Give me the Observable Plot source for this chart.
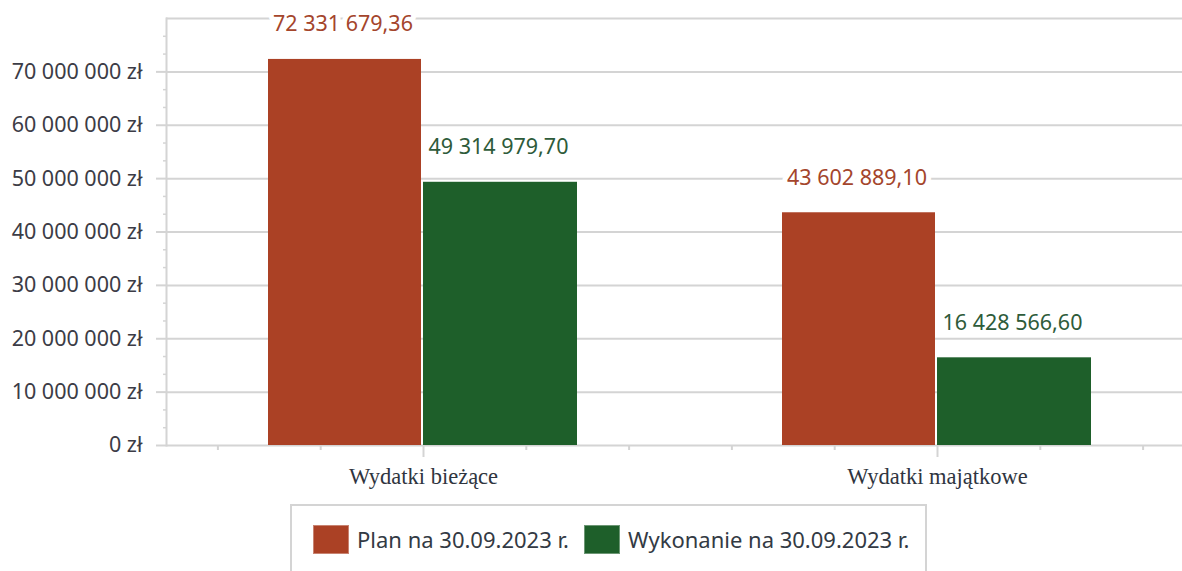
<!DOCTYPE html>
<html>
<head>
<meta charset="utf-8">
<script src="https://cdn.jsdelivr.net/npm/d3@7"></script>
<script src="https://cdn.jsdelivr.net/npm/@observablehq/plot@0.6"></script>
<style>
  html, body { margin: 0; padding: 0; background: #fff; }
  #chart svg { display: block; }
  #legend {
    margin-left: 290px; margin-top: 4px; width: 637px; height: 80px;
    border: 2px solid #d4d4d4; border-bottom: none; box-sizing: border-box;
    display: flex; align-items: flex-start; padding-left: 21px; padding-top: 18px;
    font-family: "Noto Sans", sans-serif; font-size: 22px; color: #333a44;
  }
  .item { display: flex; align-items: center; margin-right: 15px; }
  .sw { width: 36px; height: 29px; margin-right: 8px; box-sizing: border-box; border: 1px solid rgba(255,255,255,0.35); }
</style>
</head>
<body>
<div id="chart"></div>
<div id="legend"></div>
<script>
const categories = ["Wydatki bieżące", "Wydatki majątkowe"];
const series = ["Plan na 30.09.2023 r.", "Wykonanie na 30.09.2023 r."];
const planValues = [72331679.36, 43602889.10];
const wykonanieValues = [49314979.70, 16428566.60];
const seriesColors = ["#ab4125", "#1e5f2a"];
const labelColors = ["#a4452c", "#2e5b3a"];
const yTickLabels = [0, 10000000, 20000000, 30000000, 40000000, 50000000, 60000000, 70000000];
const yGridTicks = [0, 10000000, 20000000, 30000000, 40000000, 50000000, 60000000, 70000000, 80000000];

const loc = d3.formatLocale({decimal: ",", thousands: " ", grouping: [3], currency: ["", ""]});
const fmtY = v => loc.format(",.0f")(v) + " zł";
const fmtV = loc.format(",.2f");

const planData = categories.map((c, i) => ({category: c, series: series[0], value: planValues[i]}));
const wykData = categories.map((c, i) => ({category: c, series: series[1], value: wykonanieValues[i]}));

const minorY = [];
for (let i = 0; i < yGridTicks.length - 1; i++) {
  const a = yGridTicks[i], b = yGridTicks[i + 1];
  minorY.push(a + (b - a) / 3, a + 2 * (b - a) / 3);
}

const xLeft = 166, xRight = 1194;
const bandW = (xRight - xLeft) / categories.length;
const step = bandW / 5;

const sans = "'Noto Sans', sans-serif";
const gridColor = "#d4d4d4";

const marks = [
  Plot.gridY(yGridTicks, {stroke: gridColor, strokeOpacity: 1, strokeWidth: 2}),
  Plot.frame({anchor: "left", stroke: gridColor, strokeWidth: 2}),
  Plot.axisY({ticks: minorY, tickSize: 3, tickFormat: () => "", stroke: gridColor, strokeWidth: 1.5}),
  Plot.axisY({ticks: yTickLabels, tickSize: 10, tickPadding: 14, tickFormat: fmtY,
    stroke: gridColor, strokeWidth: 2, fill: "#3c3c46", fontSize: 21.5, fontFamily: sans}),
  Plot.axisX({tickSize: 0, tickPadding: 23, stroke: gridColor,
    fill: "#2f3540", fontSize: 22.5, fontFamily: "'Liberation Serif', serif"}),
  ...[-2, -1, 1, 2].map(k => Plot.ruleX(categories, {x: d => d, y1: 0, y2: 0, insetBottom: -5,
    dx: k * step, stroke: gridColor, strokeWidth: 2})),
  Plot.ruleX(categories, {x: d => d, y1: 0, y2: 0, insetBottom: -12, stroke: gridColor, strokeWidth: 2}),
  Plot.barY(planData, {x: "category", y: "value", fill: seriesColors[0], insetLeft: 102, insetRight: 259}),
  Plot.barY(wykData, {x: "category", y: "value", fill: seriesColors[1], insetLeft: 257, insetRight: 103}),
  Plot.text(planData, {x: "category", y: "value", text: d => fmtV(d.value), dx: -80.5, dy: -35,
    fill: labelColors[0], stroke: "white", strokeWidth: 10, fontSize: 21.5, fontFamily: sans}),
  Plot.text(wykData, {x: "category", y: "value", text: d => fmtV(d.value), dx: 75, dy: -35,
    fill: labelColors[1], stroke: "white", strokeWidth: 10, fontSize: 21.5, fontFamily: sans})
];

const chart = Plot.plot({
  width: 1182,
  height: 500,
  marginLeft: xLeft,
  marginRight: 0,
  marginTop: 18,
  marginBottom: 55,
  style: {background: "white", overflow: "hidden"},
  x: {domain: categories, range: [xLeft, xRight], padding: 0, label: null, axis: null},
  y: {domain: [0, 80000000], label: null, axis: null},
  marks
});
document.getElementById("chart").appendChild(chart);

const legend = d3.select("#legend");
series.forEach((s, i) => {
  const item = legend.append("div").attr("class", "item");
  item.append("div").attr("class", "sw").style("background", seriesColors[i]);
  item.append("span").text(s);
});
</script>
</body>
</html>
